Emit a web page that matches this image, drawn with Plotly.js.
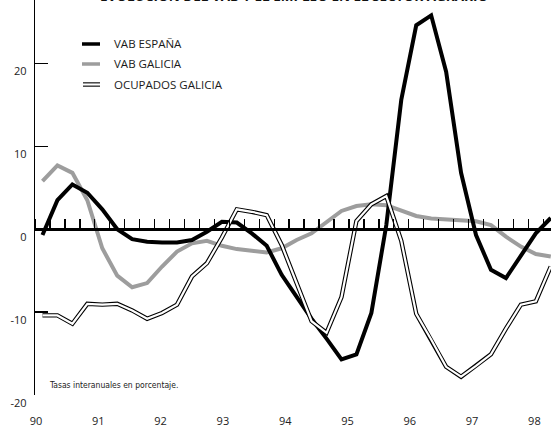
<!DOCTYPE html>
<html>
<head>
<meta charset="utf-8">
<script src="https://cdn.plot.ly/plotly-3.0.1.min.js"></script>
<style>
  html, body { margin: 0; padding: 0; background: #fff; }
  #chart { width: 551px; height: 430px; }
</style>
</head>
<body>
<div id="chart"></div>
<script>
// Quarterly observations, starting in the first quarter of 1990
const firstQuarterMid = 90.125;
const vabEspana = [-0.7, 3.5, 5.4, 4.4, 2.4, 0.0, -1.2, -1.5, -1.6, -1.6, -1.3, -0.3, 0.9, 0.8, -0.5, -2.0,
  -5.5, -8.2, -10.8, -13.2, -15.7, -15.1, -10.1, 0.5, 15.6, 24.6, 25.8, 19.0, 6.8, -0.7, -4.9, -5.9, -3.2, -0.5, 1.35];
const vabGalicia = [5.8, 7.7, 6.8, 3.5, -2.3, -5.6, -7.0, -6.5, -4.5, -2.7, -1.7, -1.4, -2.0, -2.4, -2.6, -2.8,
  -2.3, -1.3, -0.5, 0.8, 2.2, 2.8, 3.0, 2.9, 2.2, 1.6, 1.3, 1.2, 1.15, 0.95, 0.5, -0.9, -2.1, -3.0, -3.3];
const ocupadosGalicia = [-10.4, -10.4, -11.4, -9.0, -9.1, -9.0, -9.8, -10.8, -10.1, -9.1, -5.7, -4.1, -1.0, 2.4, 2.1, 1.7,
  -1.9, -6.5, -11.1, -12.5, -8.2, 1.0, 3.0, 4.0, -1.4, -10.2, -13.3, -16.6, -17.8, -16.5, -15.1, -12.0, -9.1, -8.7, -4.5];
const seriesNames = ['VAB ESPAÑA', 'VAB GALICIA', 'OCUPADOS GALICIA'];
const yearTicks = [90, 91, 92, 93, 94, 95, 96, 97, 98];
const yearLabels = ['90', '91', '92', '93', '94', '95', '96', '97', '98'];
const yTicks = [-20, -10, 0, 10, 20];
const yLabels = ['-20', '-10', '0', '10', '20'];
const titleText = 'EVOLUCIÓN DEL VAB Y EL EMPLEO EN EL SECTOR AGRARIO';
const noteText = 'Tasas interanuales en porcentaje.';

const t = vabEspana.map((_, i) => firstQuarterMid + 0.25 * i);

// geometry helpers (pixels -> paper)
const L = 35, W = 516, H = 395;
const fx = x => (x - L) / W;
const fy = y => (H - y) / H;
const yRange = [-20, 27.65];
const xRange = [90, 90 + W / 59.8];
const labelRange = [90 - 1 / 62.3, 90 + (W - 1) / 62.3];
const zeroPos = (0 - yRange[0]) / (yRange[1] - yRange[0]);

const FONT = 'Open Sans, Noto Sans, sans-serif';
const GRAY = '#9d9d9d';

const traces = [
  {x: t, y: vabGalicia, name: seriesNames[1], mode: 'lines', line: {color: GRAY, width: 4}, hoverinfo: 'skip'},
  {x: t, y: vabEspana, name: seriesNames[0], mode: 'lines', line: {color: '#000', width: 4}, hoverinfo: 'skip'},
  {x: t, y: ocupadosGalicia, name: seriesNames[2], mode: 'lines', line: {color: '#000', width: 4.4}, hoverinfo: 'skip'},
  {x: t, y: ocupadosGalicia, name: seriesNames[2], mode: 'lines', line: {color: '#fff', width: 2.2}, hoverinfo: 'skip'},
  {x: [null], y: [null], xaxis: 'x2', mode: 'lines', hoverinfo: 'skip'},
  {x: [null], y: [null], xaxis: 'x3', mode: 'lines', hoverinfo: 'skip'}
];

const legendRows = [
  {y: 44, name: seriesNames[0]},
  {y: 64, name: seriesNames[1]},
  {y: 84.5, name: seriesNames[2]}
];

const shapes = [
  {type: 'line', xref: 'paper', yref: 'paper', x0: fx(82), x1: fx(100), y0: fy(legendRows[0].y), y1: fy(legendRows[0].y), line: {color: '#000', width: 3.5}},
  {type: 'line', xref: 'paper', yref: 'paper', x0: fx(82), x1: fx(100), y0: fy(legendRows[1].y), y1: fy(legendRows[1].y), line: {color: GRAY, width: 3.5}},
  {type: 'line', xref: 'paper', yref: 'paper', x0: fx(83), x1: fx(100), y0: fy(legendRows[2].y), y1: fy(legendRows[2].y), line: {color: '#000', width: 4.4}},
  {type: 'line', xref: 'paper', yref: 'paper', x0: fx(82), x1: fx(101), y0: fy(legendRows[2].y), y1: fy(legendRows[2].y), line: {color: '#fff', width: 2.2}}
];

const annotations = legendRows.map(r => ({
  xref: 'paper', yref: 'paper', x: fx(112), y: fy(r.y - 0.5), xanchor: 'left', yanchor: 'middle',
  text: r.name, showarrow: false, font: {family: FONT, size: 11.5, color: '#1a1a1a'}
}));
annotations.push({
  xref: 'paper', yref: 'paper', x: fx(294), y: fy(-4), xanchor: 'center', yanchor: 'middle',
  text: titleText, showarrow: false, font: {family: FONT, size: 13.5, color: '#111', weight: 'bold'}
});
annotations.push({
  xref: 'paper', yref: 'paper', x: fx(47), y: fy(385), xanchor: 'left', yanchor: 'middle',
  text: noteText, showarrow: false,
  font: {family: 'Liberation Sans Narrow, Arial Narrow, DejaVu Sans Condensed, Roboto, sans-serif', size: 8.5, color: '#222'}
});

const layout = {
  width: 551, height: 430,
  margin: {l: L, r: 0, t: 0, b: 35, pad: 0},
  paper_bgcolor: '#fff', plot_bgcolor: '#fff',
  showlegend: false,
  font: {family: FONT, size: 11, color: '#222'},
  xaxis: {range: xRange, showline: false, ticks: '', showticklabels: false, showgrid: false, zeroline: false, fixedrange: true},
  xaxis2: {overlaying: 'x', anchor: 'free', position: zeroPos, side: 'top', range: xRange,
    showline: true, linecolor: '#000', linewidth: 2.5, ticks: 'outside', ticklen: 9, tickwidth: 1.3, tickcolor: '#000',
    tick0: 90, dtick: 0.25, showticklabels: false, showgrid: false, zeroline: false},
  xaxis3: {overlaying: 'x', anchor: 'y', side: 'bottom', range: labelRange,
    tickmode: 'array', tickvals: yearTicks, ticktext: yearLabels, ticks: '', showline: false,
    showgrid: false, zeroline: false, ticklabelstandoff: 18, tickfont: {family: FONT, size: 11, color: '#222'}},
  yaxis: {range: yRange, showline: true, linecolor: '#000', linewidth: 1.3, ticks: 'inside', ticklen: 13, tickwidth: 1.3,
    tickcolor: '#000', tickmode: 'array', tickvals: yTicks, ticktext: yLabels, showgrid: false, zeroline: false,
    ticklabelshift: 8, ticklabelstandoff: 5, tickfont: {family: FONT, size: 11, color: '#222'}},
  shapes: shapes,
  annotations: annotations
};

Plotly.newPlot('chart', traces, layout, {displayModeBar: false, staticPlot: true});
</script>
</body>
</html>
